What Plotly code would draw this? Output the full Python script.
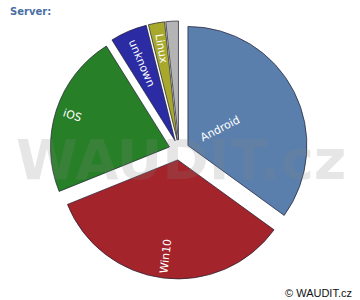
import math
import plotly.graph_objects as go

labels = ["Android", "Win10", "iOS", "unknown", "Linux", "other"]
values = [35.0, 33.9, 22.2, 5.0, 2.2, 1.7]
colors = ["#5a7fad", "#a3242a", "#278027", "#2b2ba3", "#a8a82c", "#b4b4b4"]
shown_text = ["Android", "Win10", "iOS", "unknown", "Linux", ""]
# radial placement of each label (fraction of radius from the slice apex)
label_frac = [0.31, 0.81, 0.86, 0.71, 0.78, 0.8]

W, H = 360, 300
ML, MR, MT, MB = 0, 2, 21, 21
pw, ph = W - ML - MR, H - MT - MB
PULL = 0.084

def px(x):
    return (x - ML) / pw

def py(y):
    return (H - MB - y) / ph

fig = go.Figure(go.Pie(
    labels=labels,
    values=values,
    textinfo="none",
    sort=False,
    direction="clockwise",
    rotation=0,
    pull=[PULL] * len(values),
    marker=dict(colors=colors, line=dict(color="rgba(30,30,50,0.7)", width=1)),
    hoverinfo="none",
    showlegend=False,
))

# slice labels, oriented radially along each slice's mid angle
cx, cy = ML + pw / 2, MT + ph / 2
r = min(pw, ph) / (2 * (1 + PULL))
total = sum(values)
annotations = []
acc = 0.0
for lab, v, f in zip(shown_text, values, label_frac):
    mid = (acc + v / 2) / total * 2 * math.pi
    acc += v
    if not lab:
        continue
    d = r * (PULL + f)
    tx = cx + d * math.sin(mid)
    ty = cy - d * math.cos(mid)
    ang = math.degrees(mid) - 90
    if ang > 90:
        ang -= 180
    annotations.append(dict(
        text=lab, x=px(tx), y=py(ty), xref="paper", yref="paper",
        xanchor="center", yanchor="middle", showarrow=False, textangle=ang,
        font=dict(family="DejaVu Sans", size=11, color="white"),
    ))

annotations += [
    dict(text="WAUDIT.cz", x=px(180.5), y=py(159), xref="paper", yref="paper",
         xanchor="center", yanchor="middle", showarrow=False,
         font=dict(family="DejaVu Sans", size=56, color="rgba(128,128,128,0.2)",
                   weight="bold")),
    dict(text="Server:", x=px(8), y=py(12), xref="paper", yref="paper",
         xanchor="left", yanchor="middle", showarrow=False,
         font=dict(family="DejaVu Sans", size=10, color="#4a6fa5", weight="bold")),
    dict(text="© WAUDIT.cz", x=px(354), y=py(293), xref="paper", yref="paper",
         xanchor="right", yanchor="middle", showarrow=False,
         font=dict(family="Liberation Sans", size=11, color="#111111")),
]

fig.update_layout(
    width=W, height=H,
    margin=dict(l=ML, r=MR, t=MT, b=MB),
    paper_bgcolor="white",
    plot_bgcolor="white",
    annotations=annotations,
)

fig.write_html("out.html")
